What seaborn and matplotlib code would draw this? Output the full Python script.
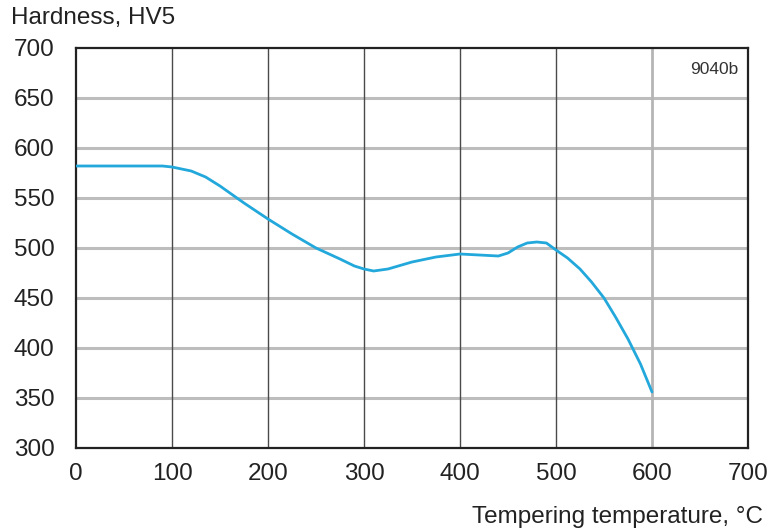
import matplotlib
matplotlib.use("Agg")
import matplotlib.pyplot as plt
import seaborn as sns
import pandas as pd

temperature = [0, 30, 60, 90, 100, 110, 120, 135, 150, 175, 200, 225, 250, 275, 290, 300, 310,
               325, 350, 375, 400, 420, 440, 450, 460, 470, 480, 490, 500, 512, 525, 537,
               550, 562, 575, 588, 600]
hardness = [582, 582, 582, 582, 581, 579, 577, 571, 562, 545, 529, 514, 500, 489, 482, 479, 477,
            479, 486, 491, 494, 493, 492, 495, 501, 505, 506, 505, 498, 490, 479, 466,
            450, 431, 409, 384, 356]

x_ticks = [0, 100, 200, 300, 400, 500, 600, 700]
y_ticks = [300, 350, 400, 450, 500, 550, 600, 650, 700]

sns.set_style("white")
plt.rcParams['font.family'] = ['Liberation Sans', 'DejaVu Sans']

fig = plt.figure(figsize=(7.67, 5.32), dpi=100)
ax = fig.add_axes([76/767, 1-448/532, (748-76)/767, (448-48)/532])

df = pd.DataFrame({"t": temperature, "h": hardness})

# grid
for y in y_ticks[1:-1]:
    ax.axhline(y, color="#bdbdbd", lw=2.2, zorder=1)
for x in x_ticks[1:-1]:
    if x == 600:
        ax.axvline(x, color="#b5b5b5", lw=2.0, zorder=1)
    else:
        ax.axvline(x, color="#4a4a4a", lw=1.0, zorder=1)

sns.lineplot(data=df, x="t", y="h", ax=ax, color="#22a8db", lw=2.0, zorder=3)

ax.set_xlim(0, 700)
ax.set_ylim(300, 700)
ax.set_xticks(x_ticks)
ax.set_yticks(y_ticks)
ax.tick_params(axis="both", labelsize=17.5, colors="#222222", length=0)
ax.tick_params(axis="y", length=6.5, width=1.2, direction="out", color="#999999", pad=9)
ax.tick_params(axis="x", length=4, width=1.2, direction="out", color="#999999", pad=7)
ax.set_xlabel("")
ax.set_ylabel("")
for s in ax.spines.values():
    s.set_color("#222222")
    s.set_linewidth(1.6)
    s.set_visible(True)

fig.text(11/767, 1-18/532, "Hardness, HV5", fontsize=17.5, color="#222222", va="center", ha="left")
fig.text(763/767, 1-517/532, "Tempering temperature, °C", fontsize=17.5, color="#222222", va="center", ha="right")
ax.text(0.985, 0.965, "9040b", transform=ax.transAxes, fontsize=12.5, color="#333333", ha="right", va="top")

fig.savefig("out.png", dpi=100)
